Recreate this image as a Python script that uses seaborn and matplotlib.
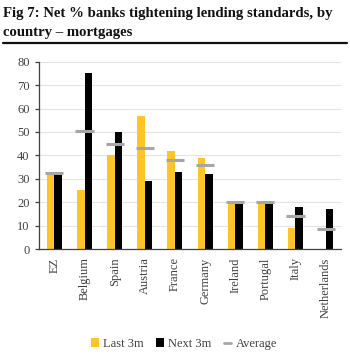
import numpy as np
import pandas as pd
import matplotlib
matplotlib.use("Agg")
import matplotlib.pyplot as plt
from matplotlib.patches import Patch
from matplotlib.lines import Line2D
import seaborn as sns

countries = ["EZ", "Belgium", "Spain", "Austria", "France", "Germany",
             "Ireland", "Portugal", "Italy", "Netherlands"]
last_3m = [32, 25, 40, 57, 42, 39, 20, 20, 9, 0]
next_3m = [32, 75, 50, 29, 33, 32, 20, 20, 18, 17]
average = [32.5, 50.5, 45, 43, 38, 36, 20, 20, 14, 8.5]
y_ticks = [0, 10, 20, 30, 40, 50, 60, 70, 80]

YELLOW = "#FFC425"
BLACK = "#000000"
GREY = "#A6A6A6"

sns.set_style("white")
plt.rcParams["font.family"] = ["Liberation Serif", "DejaVu Serif"]

df = pd.DataFrame({
    "country": countries * 2,
    "value": last_3m + next_3m,
    "series": ["Last 3m"] * len(countries) + ["Next 3m"] * len(countries),
})

fig = plt.figure(figsize=(3.5, 3.61), dpi=100)
ax = fig.add_axes([39.3 / 350, 1 - 249 / 361, (340.7 - 39.3) / 350, (249 - 61.7) / 361])

sns.barplot(data=df, x="country", y="value", hue="series", order=countries,
            palette={"Last 3m": YELLOW, "Next 3m": BLACK}, width=0.5, gap=0,
            saturation=1, linewidth=0, legend=False, ax=ax)

xpos = np.arange(len(countries))
ax.hlines(average, xpos - 0.3, xpos + 0.3, colors=GREY, linewidth=2.2, zorder=5)

ax.set_ylim(0, 80)
ax.set_xlim(-0.5, len(countries) - 0.5)
ax.set_yticks(y_ticks)
ax.yaxis.grid(True, color="#E3E3E3", linewidth=0.8)
ax.set_axisbelow(True)
ax.set_xlabel("")
ax.set_ylabel("")
for s in ["top", "right"]:
    ax.spines[s].set_visible(False)
for s in ["left", "bottom"]:
    ax.spines[s].set_color("#404040")
    ax.spines[s].set_linewidth(0.9)

ax.set_xticks(xpos)
ax.set_xticklabels(countries, rotation=90, fontsize=9, color="#404040")
ax.set_xticks(np.arange(len(countries) + 1) - 0.5, minor=True)
ax.tick_params(axis="x", which="major", length=0, pad=6)
ax.tick_params(axis="x", which="minor", length=4, width=0.9, color="#404040", direction="out")
ax.tick_params(axis="y", length=3, width=0.9, color="#404040", labelsize=9,
               labelcolor="#404040", pad=4, left=True)

title_kw = dict(ha="left", va="baseline", fontsize=10.6, fontweight="bold", color="#111111")
fig.text(3 / 350, 1 - 16.7 / 361, "Fig 7: Net % banks tightening lending standards, by", **title_kw)
fig.text(3 / 350, 1 - 36 / 361, "country – mortgages", **title_kw)
fig.add_artist(Line2D([3 / 350, 347 / 350], [1 - 42.7 / 361, 1 - 42.7 / 361],
                      transform=fig.transFigure, color="#111111", linewidth=1.6))

handles = [Patch(facecolor=YELLOW, edgecolor="none", label="Last 3m"),
           Patch(facecolor=BLACK, edgecolor="none", label="Next 3m"),
           Line2D([0], [0], color=GREY, linewidth=2, label="Average")]
fig.legend(handles=handles, loc="center", bbox_to_anchor=(184 / 350, 1 - 344 / 361), ncol=3,
           frameon=False, fontsize=9, handlelength=0.6, handleheight=0.7, handletextpad=0.35,
           columnspacing=1.0, labelcolor="#404040")

fig.savefig("out.png", dpi=100)
